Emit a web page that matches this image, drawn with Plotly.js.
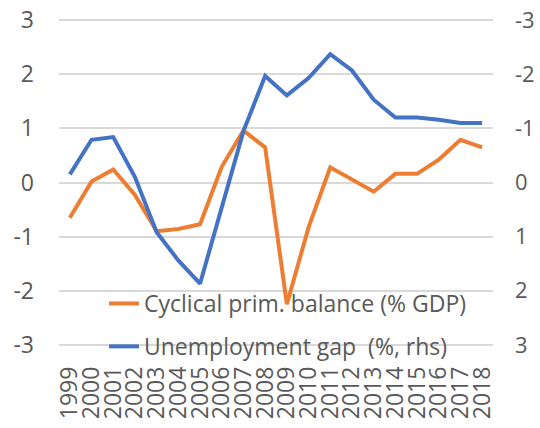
<!DOCTYPE html>
<html>
<head>
<meta charset="utf-8">
<script src="https://cdn.plot.ly/plotly-3.0.1.min.js"></script>
<style>
html,body{margin:0;padding:0;background:#fff;}
#chart{width:540px;height:428px;}
</style>
</head>
<body>
<div id="chart"></div>
<script>
const years = ["1999","2000","2001","2002","2003","2004","2005","2006","2007","2008","2009","2010","2011","2012","2013","2014","2015","2016","2017","2018"];
const cyclicalPrimBalance = [-0.65, 0.02, 0.24, -0.23, -0.90, -0.86, -0.77, 0.29, 0.96, 0.65, -2.25, -0.83, 0.28, 0.05, -0.17, 0.16, 0.16, 0.42, 0.79, 0.65];
const unemploymentGap = [-0.15, -0.79, -0.84, -0.10, 0.92, 1.44, 1.87, 0.45, -0.95, -1.97, -1.61, -1.93, -2.37, -2.07, -1.53, -1.20, -1.20, -1.16, -1.10, -1.10];
const leftTicks = [-3, -2, -1, 0, 1, 2, 3];
const rightTicks = [-3, -2, -1, 0, 1, 2, 3];
const seriesNames = ["Cyclical prim. balance (% GDP)", "Unemployment gap  (%, rhs)"];

const txt = "#595959";
const fontFam = "Open Sans, Liberation Sans, sans-serif";

const traces = [
  {
    x: years, y: cyclicalPrimBalance, name: seriesNames[0],
    type: "scatter", mode: "lines", yaxis: "y",
    line: {color: "#ED7D31", width: 4, shape: "linear"},
    legendgroup: "a"
  },
  {
    x: years, y: unemploymentGap, name: seriesNames[1],
    type: "scatter", mode: "lines", yaxis: "y2",
    line: {color: "#4472C4", width: 4, shape: "linear"},
    legendgroup: "b"
  }
];

const layout = {
  width: 540, height: 428,
  margin: {l: 59, r: 47, t: 18, b: 81, pad: 0},
  paper_bgcolor: "#fff", plot_bgcolor: "#fff",
  font: {family: fontFam, color: txt, size: 23},
  showlegend: true,
  legend: {
    x: (104 - 59) / 434, xanchor: "left",
    y: 1 - (282 - 18) / 329, yanchor: "top",
    bgcolor: "rgba(0,0,0,0)",
    font: {family: fontFam, size: 23, color: txt},
    tracegroupgap: 10,
    traceorder: "grouped"
  },
  xaxis: {
    type: "category",
    range: [-0.5, years.length - 0.5],
    tickmode: "array", tickvals: years, ticktext: years,
    tickangle: -90,
    tickfont: {family: fontFam, size: 23, color: txt},
    showgrid: false, zeroline: false, showline: false,
    ticks: "", ticklabelstandoff: 14,
    fixedrange: true
  },
  yaxis: {
    range: [-3.04, 3.04], tickmode: "array", tickvals: leftTicks,
    ticktext: leftTicks.map(String),
    showgrid: true, gridcolor: "#d9d9d9", gridwidth: 2,
    zeroline: false, showline: false, ticks: "",
    tickfont: {family: fontFam, size: 23, color: txt},
    ticklabelstandoff: 24
  },
  yaxis2: {
    overlaying: "y", side: "right",
    range: [3.04, -3.04], tickmode: "array", tickvals: rightTicks,
    ticktext: rightTicks.map(String),
    showgrid: false, zeroline: false, showline: false, ticks: "",
    tickfont: {family: fontFam, size: 22, color: txt},
    ticklabelstandoff: 21
  }
};

Plotly.newPlot("chart", traces, layout, {displayModeBar: false, staticPlot: true});
</script>
</body>
</html>
